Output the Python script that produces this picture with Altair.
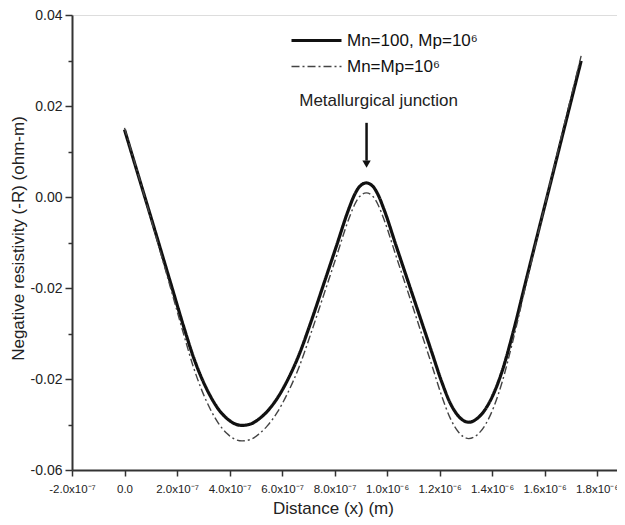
import altair as alt
import pandas as pd

# ---- data ----
series_names = ["Mn=100, Mp=10⁶", "Mn=Mp=10⁶"]

# distance, in units of 1e-7 m
x_e7 = [0.0, 0.580, 1.156, 1.731, 2.281, 2.626, 2.946, 3.265, 3.585, 3.905,
        4.224, 4.480, 4.800, 5.119, 5.439, 5.823, 6.206, 6.654, 7.088, 7.613,
        8.060, 8.533, 8.763, 8.955, 9.211, 9.467, 9.658, 9.889, 10.362, 10.809,
        11.257, 11.704, 12.075, 12.407, 12.727, 13.111, 13.430, 13.750, 14.070,
        14.389, 14.773, 15.284, 15.796, 16.307, 16.819, 17.394]

r_solid = [0.0148, 0.0037, -0.0073, -0.0184, -0.0290, -0.0352, -0.0399, -0.0437,
           -0.0467, -0.0487, -0.0499, -0.0502, -0.0499, -0.0488, -0.0471, -0.0442,
           -0.0403, -0.0346, -0.0277, -0.0187, -0.0110, -0.0028, 0.0005, 0.0023,
           0.0031, 0.0023, 0.0005, -0.0028, -0.0110, -0.0187, -0.0264, -0.0341,
           -0.0405, -0.0453, -0.0482, -0.0495, -0.0487, -0.0466, -0.0431, -0.0382,
           -0.0304, -0.0186, -0.0068, 0.0049, 0.0167, 0.0299]

r_dashdot = [0.0152, 0.0038, -0.0078, -0.0195, -0.0307, -0.0374, -0.0425, -0.0466,
             -0.0498, -0.0520, -0.0533, -0.0536, -0.0533, -0.0521, -0.0503, -0.0473,
             -0.0432, -0.0373, -0.0302, -0.0211, -0.0133, -0.0050, -0.0017, 0.0001,
             0.0009, 0.0001, -0.0017, -0.0050, -0.0133, -0.0211, -0.0290, -0.0369,
             -0.0436, -0.0486, -0.0517, -0.0531, -0.0523, -0.0500, -0.0461, -0.0406,
             -0.0321, -0.0195, -0.0070, 0.0053, 0.0175, 0.0310]

# axis ticks and their labels (as printed in the reference)
x_major = [-2e-7, 0.0, 2e-7, 4e-7, 6e-7, 8e-7, 1.0e-6, 1.2e-6, 1.4e-6, 1.6e-6, 1.8e-6]
x_labels = ["-2.0x10⁻⁷", "0.0", "2.0x10⁻⁷", "4.0x10⁻⁷", "6.0x10⁻⁷", "8.0x10⁻⁷",
            "1.0x10⁻⁶", "1.2x10⁻⁶", "1.4x10⁻⁶", "1.6x10⁻⁶", "1.8x10⁻⁶"]
y_major = [-0.06, -0.04, -0.02, 0.0, 0.02, 0.04]
y_labels = ["-0.06", "-0.02", "-0.02", "0.00", "0.02", "0.04"]

# annotation
arrow_x = [9.22e-7]
arrow_y = [0.0163]
arrow_y2 = [0.0080]
arrow_head_y = [0.0072]
note_x = [9.68e-7]
note_y = [0.0211]
note_text = ["Metallurgical junction"]

FONT = "Liberation Sans"

# ---- build tables ----
rows = []
for name, vals in zip(series_names, [r_solid, r_dashdot]):
    for xv, yv in zip(x_e7, vals):
        rows.append({"x": xv * 1e-7, "r": yv, "series": name})
df = pd.DataFrame(rows)

x_ticks = [round(-2e-7 + i * 1e-7, 10) for i in range(21)]
y_ticks = [round(-0.06 + i * 0.01, 4) for i in range(11)]


def label_expr(vals, labels, scale):
    parts = [f"round(datum.value*{scale})=={round(v*scale)} ? '{l}'" for v, l in zip(vals, labels)]
    return " : ".join(parts) + " : ''"


x_scale = alt.Scale(domain=[-2e-7, 1.876e-6], nice=False, zero=False)
y_scale = alt.Scale(domain=[-0.06, 0.04], nice=False, zero=False)

x_axis = alt.Axis(
    title="Distance (x) (m)", values=x_ticks,
    labelExpr=label_expr(x_major, x_labels, 10000000),
    tickSize={"condition": {"test": "abs(round(datum.value*10000000)) % 2 == 0", "value": 6}, "value": 3},
    labelPadding=7, labelFontSize=11.5, labelFont=FONT, labelColor="#222",
    titleFontSize=17, titleFont=FONT, titleFontWeight="normal", titleColor="#222",
    titleX=261, titleY=38, titleBaseline="middle",
    domainColor="#333", domainWidth=2, tickColor="#333", tickWidth=1.5,
    grid=False, labelOverlap=False, labelFlush=False,
)
y_axis = alt.Axis(
    title="Negative resistivity (-R) (ohm-m)", values=y_ticks,
    labelExpr=label_expr(y_major, y_labels, 100),
    tickSize={"condition": {"test": "abs(round(datum.value*100)) % 2 == 0", "value": 7}, "value": 4},
    labelPadding=3, labelFontSize=14, labelFont=FONT, labelColor="#222",
    titleFontSize=17, titleFont=FONT, titleFontWeight="normal", titleColor="#222",
    titleX=-54, titleY=223, titleBaseline="middle",
    domainColor="#333", domainWidth=2, tickColor="#333", tickWidth=1.5,
    grid=False, labelOverlap=False, labelFlush=False,
)

# a 50px horizontal stroke as the legend symbol, drawn at unit scale (size 4)
legend = alt.Legend(
    title=None, orient="none", legendX=236, legendY=17,
    symbolType="M-25,0H25", symbolSize=4, labelFontSize=17, labelFont=FONT,
    labelColor="#111", rowPadding=8, labelOffset=22,
)

lines = alt.Chart(df).mark_line(interpolate="monotone").encode(
    x=alt.X("x:Q", scale=x_scale, axis=x_axis),
    y=alt.Y("r:Q", scale=y_scale, axis=y_axis),
    color=alt.Color("series:N", scale=alt.Scale(domain=series_names, range=["#111111", "#444444"]), legend=legend),
    strokeDash=alt.StrokeDash("series:N", scale=alt.Scale(domain=series_names, range=[[1, 0], [8, 3, 2, 3]]), legend=legend),
    strokeWidth=alt.StrokeWidth("series:N", scale=alt.Scale(domain=series_names, range=[3.2, 1.4]), legend=legend),
)

ann = pd.DataFrame({"x": arrow_x, "y": arrow_y, "y2": arrow_y2, "yh": arrow_head_y})
arrow = alt.Chart(ann).mark_rule(color="#111", strokeWidth=2.5).encode(
    x="x:Q", y="y:Q", y2="y2:Q")
head = alt.Chart(ann).mark_point(shape="triangle-down", filled=True, color="#111", size=70, opacity=1).encode(
    x="x:Q", y="yh:Q")

notes = pd.DataFrame({"x": note_x, "y": note_y, "t": note_text})
note = alt.Chart(notes).mark_text(fontSize=17, font=FONT, color="#222", align="center", baseline="middle").encode(
    x="x:Q", y="y:Q", text="t:N")

chart = alt.layer(lines, arrow, head, note).properties(
    width=545, height=455,
    autosize=alt.AutoSizeParams(type="none"),
    padding={"left": 64, "top": 7, "right": 0, "bottom": 47},
).configure_view(stroke=None).configure(background="white")

chart.save("out.html", embed_options={"renderer": "svg", "actions": False})
